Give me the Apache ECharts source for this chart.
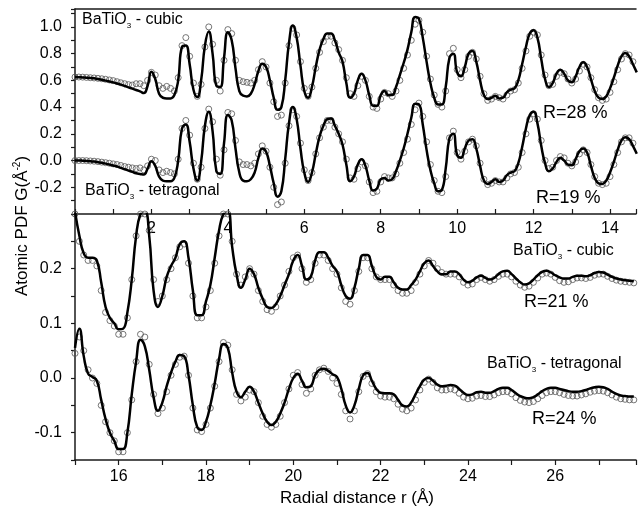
<!DOCTYPE html>
<html><head><meta charset="utf-8">
<script src="https://cdn.jsdelivr.net/npm/echarts@6/dist/echarts.min.js"></script>
<style>html,body{margin:0;padding:0;background:#fff}#c{width:639px;height:510px}</style>
</head><body><div id="c"></div>
<script>
// ---- top panel: r from 0.0 step 0.1 ----
const topStart = 0.0, topStep = 0.1;
const topCubicFit = [
0.625,0.624,0.622,0.620,0.618,0.615,0.610,0.605,0.598,0.592,
0.585,0.577,0.568,0.558,0.548,0.538,0.528,0.518,0.505,0.56,
0.665,0.61,0.50,0.47,0.465,0.465,0.49,0.60,0.85,0.86,
0.72,0.53,0.475,0.60,0.86,0.965,0.80,0.56,0.55,0.77,
0.96,0.90,0.69,0.52,0.485,0.48,0.50,0.57,0.67,0.725,
0.70,0.60,0.47,0.38,0.40,0.60,0.88,1.01,0.92,0.71,
0.52,0.47,0.55,0.70,0.83,0.91,0.95,0.95,0.90,0.81,
0.74,0.58,0.47,0.50,0.60,0.65,0.60,0.49,0.41,0.41,
0.49,0.52,0.49,0.49,0.55,0.64,0.73,0.83,0.96,1.075,
1.06,0.92,0.74,0.58,0.47,0.42,0.42,0.55,0.77,0.80,
0.66,0.63,0.70,0.80,0.82,0.74,0.60,0.49,0.46,0.47,
0.485,0.465,0.47,0.51,0.53,0.54,0.60,0.72,0.85,0.95,
0.975,0.92,0.76,0.61,0.55,0.58,0.65,0.68,0.65,0.60,
0.585,0.63,0.70,0.735,0.70,0.61,0.52,0.47,0.46,0.48,
0.54,0.62,0.71,0.78,0.805,0.78,0.72,0.66];
const topCubicExp = [
0.625,0.625,0.624,0.622,0.620,0.618,0.615,0.612,0.608,0.603,
0.598,0.590,0.582,0.575,0.568,0.565,0.575,0.575,0.560,0.600,
0.66,0.64,0.56,0.54,0.555,0.54,0.52,0.62,0.86,0.92,
0.78,0.58,0.48,0.57,0.85,1.0,0.87,0.60,0.52,0.75,
0.98,0.95,0.75,0.60,0.59,0.585,0.58,0.60,0.68,0.74,
0.70,0.58,0.44,0.33,0.34,0.58,0.86,0.99,0.94,0.74,
0.54,0.48,0.55,0.69,0.81,0.89,0.93,0.93,0.88,0.83,
0.75,0.62,0.50,0.48,0.56,0.63,0.60,0.48,0.40,0.39,
0.46,0.51,0.50,0.48,0.52,0.60,0.69,0.79,0.90,1.02,
1.05,0.96,0.78,0.61,0.49,0.42,0.40,0.52,0.80,0.84,
0.68,0.62,0.68,0.78,0.81,0.76,0.63,0.50,0.45,0.46,
0.48,0.47,0.46,0.49,0.52,0.53,0.58,0.69,0.82,0.93,
0.96,0.94,0.79,0.64,0.56,0.57,0.63,0.66,0.65,0.61,
0.58,0.61,0.67,0.72,0.70,0.62,0.53,0.47,0.45,0.46,
0.51,0.59,0.68,0.76,0.80,0.79,0.74,0.68];
const topTetraFit = [
0.0,0.0,-0.001,-0.003,-0.005,-0.008,-0.012,-0.017,-0.023,-0.030,
-0.037,-0.045,-0.055,-0.065,-0.075,-0.085,-0.095,-0.100,-0.105,-0.06,
-0.005,-0.04,-0.12,-0.15,-0.155,-0.155,-0.13,0.0,0.24,0.27,
0.14,-0.06,-0.15,-0.01,0.26,0.365,0.22,-0.08,-0.10,0.13,
0.34,0.30,0.09,-0.09,-0.15,-0.155,-0.14,-0.09,0.02,0.09,
0.065,-0.04,-0.17,-0.27,-0.23,0.01,0.28,0.40,0.31,0.09,
-0.09,-0.16,-0.09,0.05,0.18,0.26,0.31,0.315,0.26,0.20,
0.12,-0.03,-0.155,-0.12,-0.03,0.01,-0.04,-0.15,-0.225,-0.21,
-0.14,-0.13,-0.15,-0.14,-0.08,0.0,0.09,0.20,0.32,0.425,
0.42,0.27,0.08,-0.07,-0.17,-0.23,-0.22,-0.06,0.17,0.20,
0.04,0.02,0.09,0.15,0.16,0.09,-0.04,-0.15,-0.175,-0.16,
-0.14,-0.16,-0.15,-0.11,-0.09,-0.08,-0.02,0.10,0.24,0.34,
0.365,0.28,0.11,-0.02,-0.08,-0.06,-0.01,0.02,0.0,-0.03,
-0.035,0.01,0.07,0.09,0.06,-0.04,-0.13,-0.17,-0.175,-0.15,
-0.09,-0.01,0.08,0.15,0.175,0.16,0.11,0.05];
const topTetraExp = [
0.0,0.0,0.0,-0.001,-0.003,-0.005,-0.008,-0.012,-0.016,-0.020,
-0.025,-0.030,-0.037,-0.045,-0.050,-0.055,-0.060,-0.055,-0.070,-0.040,
0.01,0.0,-0.07,-0.09,-0.08,-0.09,-0.10,0.01,0.24,0.30,
0.19,-0.02,-0.14,-0.05,0.24,0.385,0.29,0.01,-0.11,0.08,
0.36,0.35,0.15,-0.01,-0.03,-0.03,-0.04,-0.02,0.05,0.11,
0.07,-0.05,-0.20,-0.33,-0.31,-0.02,0.26,0.38,0.33,0.13,
-0.07,-0.15,-0.09,0.05,0.17,0.25,0.30,0.30,0.25,0.20,
0.14,0.01,-0.13,-0.14,-0.06,-0.01,-0.04,-0.16,-0.24,-0.23,
-0.16,-0.12,-0.13,-0.13,-0.10,-0.02,0.06,0.16,0.27,0.38,
0.43,0.33,0.14,-0.03,-0.15,-0.23,-0.24,-0.12,0.17,0.22,
0.06,0.01,0.07,0.14,0.16,0.11,-0.02,-0.14,-0.18,-0.17,
-0.15,-0.16,-0.16,-0.13,-0.10,-0.09,-0.05,0.06,0.20,0.31,
0.35,0.31,0.15,0.00,-0.06,-0.05,0.00,0.03,0.02,-0.02,
-0.04,-0.01,0.05,0.08,0.06,-0.03,-0.12,-0.17,-0.18,-0.17,
-0.12,-0.03,0.06,0.14,0.17,0.17,0.13,0.07];

// ---- bottom panel: r from 15.0 step 0.1 ----
const botStart = 15.0, botStep = 0.1;
const botCubicFit = [
0.305,0.26,0.228,0.22,0.22,0.215,0.175,0.13,0.11,0.10,
0.089,0.09,0.12,0.18,0.26,0.30,0.305,0.26,0.16,0.13,
0.15,0.185,0.205,0.22,0.245,0.25,0.22,0.16,0.115,0.115,
0.14,0.17,0.22,0.27,0.30,0.305,0.24,0.19,0.165,0.18,
0.20,0.19,0.165,0.145,0.13,0.128,0.135,0.15,0.17,0.19,
0.215,0.225,0.205,0.18,0.185,0.215,0.23,0.23,0.22,0.205,
0.195,0.17,0.15,0.145,0.165,0.20,0.225,0.225,0.205,0.185,
0.18,0.185,0.185,0.175,0.165,0.162,0.162,0.17,0.18,0.195,
0.21,0.215,0.205,0.195,0.19,0.19,0.195,0.195,0.19,0.18,
0.175,0.178,0.184,0.187,0.183,0.18,0.183,0.19,0.195,0.196,
0.19,0.182,0.175,0.171,0.173,0.18,0.188,0.194,0.196,0.193,
0.188,0.184,0.182,0.182,0.185,0.187,0.187,0.186,0.188,0.192,
0.194,0.193,0.189,0.185,0.182,0.18,0.179,0.178,0.177];
const botCubicExp = [
0.30,0.25,0.225,0.215,0.215,0.205,0.16,0.12,0.105,0.095,
0.08,0.08,0.11,0.18,0.26,0.30,0.30,0.27,0.18,0.14,
0.15,0.18,0.20,0.22,0.24,0.245,0.21,0.15,0.11,0.11,
0.13,0.16,0.21,0.26,0.30,0.30,0.25,0.19,0.17,0.185,
0.20,0.19,0.16,0.14,0.125,0.122,0.13,0.15,0.17,0.195,
0.22,0.225,0.20,0.175,0.18,0.21,0.225,0.225,0.215,0.20,
0.19,0.165,0.14,0.135,0.16,0.195,0.22,0.22,0.20,0.185,
0.18,0.18,0.18,0.17,0.16,0.155,0.155,0.16,0.175,0.19,
0.205,0.215,0.21,0.20,0.193,0.19,0.19,0.19,0.185,0.175,
0.17,0.172,0.18,0.184,0.18,0.177,0.18,0.186,0.19,0.19,
0.185,0.177,0.17,0.166,0.168,0.175,0.183,0.19,0.192,0.19,
0.184,0.178,0.175,0.176,0.18,0.183,0.183,0.182,0.184,0.188,
0.19,0.19,0.186,0.182,0.179,0.177,0.176,0.175,0.174];
const botTetraFit = [
0.055,0.09,0.04,0.008,0.002,-0.005,-0.04,-0.075,-0.10,-0.115,
-0.13,-0.13,-0.10,-0.03,0.03,0.07,0.058,0.015,-0.035,-0.06,
-0.045,-0.015,0.01,0.03,0.042,0.04,0.005,-0.05,-0.09,-0.095,
-0.08,-0.05,-0.01,0.035,0.062,0.055,0.01,-0.025,-0.035,-0.025,
-0.016,-0.025,-0.045,-0.065,-0.08,-0.086,-0.08,-0.065,-0.045,-0.02,
0.0,0.008,-0.005,-0.017,-0.015,0.005,0.015,0.017,0.013,0.007,
0.002,-0.02,-0.05,-0.063,-0.05,-0.02,0.005,0.009,-0.005,-0.02,
-0.027,-0.028,-0.028,-0.03,-0.04,-0.05,-0.052,-0.045,-0.03,-0.015,
-0.003,0.0,-0.005,-0.012,-0.015,-0.014,-0.013,-0.014,-0.02,-0.027,
-0.031,-0.03,-0.026,-0.025,-0.027,-0.027,-0.024,-0.02,-0.018,-0.018,
-0.022,-0.028,-0.033,-0.036,-0.037,-0.035,-0.03,-0.024,-0.02,-0.018,
-0.018,-0.02,-0.022,-0.024,-0.025,-0.025,-0.024,-0.022,-0.019,-0.017,
-0.016,-0.017,-0.02,-0.025,-0.029,-0.032,-0.033,-0.034,-0.034];
const botTetraExp = [
0.045,0.075,0.05,0.015,0.0,-0.01,-0.05,-0.08,-0.10,-0.115,
-0.135,-0.135,-0.10,-0.04,0.03,0.08,0.075,0.025,-0.03,-0.065,
-0.055,-0.025,0.005,0.025,0.038,0.04,0.005,-0.055,-0.095,-0.098,
-0.085,-0.055,-0.015,0.03,0.065,0.06,0.015,-0.03,-0.042,-0.035,
-0.022,-0.025,-0.045,-0.07,-0.085,-0.09,-0.085,-0.07,-0.045,-0.02,
0.005,0.01,-0.012,-0.028,-0.02,0.005,0.015,0.018,0.012,0.0,
-0.01,-0.03,-0.06,-0.075,-0.06,-0.025,0.003,0.008,-0.01,-0.025,
-0.033,-0.035,-0.035,-0.038,-0.048,-0.057,-0.06,-0.055,-0.04,-0.022,
-0.008,-0.002,-0.008,-0.018,-0.022,-0.022,-0.02,-0.022,-0.028,-0.035,
-0.038,-0.037,-0.033,-0.032,-0.034,-0.034,-0.031,-0.027,-0.025,-0.025,
-0.029,-0.036,-0.041,-0.044,-0.045,-0.043,-0.038,-0.032,-0.027,-0.025,
-0.025,-0.027,-0.03,-0.032,-0.033,-0.033,-0.031,-0.029,-0.026,-0.024,
-0.023,-0.024,-0.027,-0.031,-0.035,-0.038,-0.039,-0.04,-0.04];

// ---- tick labels ----
const topXLabels = [2,4,6,8,10,12,14];
const botXLabels = [16,18,20,22,24,26];
const topYLabels = [-0.2,0.0,0.2,0.4,0.6,0.8,1.0];
const botYLabels = [-0.1,0.0,0.1,0.2];

const FAM = '"Liberation Sans", Arial, Helvetica, sans-serif';
const AX = '#1a1a1a';

function pairs(start, step, arr){ return arr.map((v,i)=>[+(start+i*step).toFixed(2), v]); }
function fmtFrom(list, digits){
  return function(v){
    for (const t of list){ if (Math.abs(v - t) < 1e-6) return digits ? t.toFixed(digits) : String(t); }
    return '';
  };
}
const lbl = (margin, list, digits) => ({margin, fontSize:16, color:'#000', fontFamily:FAM, formatter: fmtFrom(list, digits)});
const axLine = {show:true, onZero:false, lineStyle:{color:AX, width:1.5}};

function circles(xi, yi, start, step, arr){
  return {type:'scatter', xAxisIndex:xi, yAxisIndex:yi, data:pairs(start,step,arr), symbol:'circle', symbolSize:6,
    itemStyle:{color:'rgba(0,0,0,0)', borderColor:'#555', borderWidth:1}, z:2, silent:true, clip:true};
}
function fit(xi, yi, start, step, arr){
  return {type:'line', xAxisIndex:xi, yAxisIndex:yi, data:pairs(start,step,arr), showSymbol:false, smooth:0.5,
    lineStyle:{color:'#000', width:2.5}, z:3, silent:true, clip:true};
}

const richMain = {fontSize:16, fontFamily:FAM, fill:'#000', color:'#000', lineHeight:20};
const richSub = {fontSize:8, fontFamily:FAM, fill:'#000', color:'#000', lineHeight:8, padding:[12,0,0,0]};
function formula(x, y, rest){
  return {type:'text', x, y, silent:true, style:{text:'{a|BaTiO}{s|3}{a|' + rest + '}', rich:{a:richMain, s:richSub},
    align:'left', textAlign:'left', verticalAlign:'middle', textVerticalAlign:'middle'}};
}
function plain(x, y, text, size, align){
  return {type:'text', x, y, silent:true, style:{text, fontSize:size, fontFamily:FAM, fill:'#000',
    align:align||'left', textAlign:align||'left', verticalAlign:'middle', textVerticalAlign:'middle'}};
}

const option = {
  animation:false,
  backgroundColor:'#fff',
  grid:[
    {left:75, top:9, width:564, height:205},
    {left:75, top:214, width:564, height:246}
  ],
  xAxis:[
    {gridIndex:0, type:'value', min:0, max:14.68, interval:1, position:'bottom',
      axisLine:axLine, axisTick:{show:true, inside:true, length:5, lineStyle:{color:AX, width:1.2}},
      axisLabel:lbl(7, topXLabels, 0), splitLine:{show:false}},
    {gridIndex:0, type:'value', min:0, max:14.68, position:'top',
      axisLine:axLine, axisTick:{show:false}, axisLabel:{show:false}, splitLine:{show:false}},
    {gridIndex:1, type:'value', min:15, max:27.85, interval:1, position:'bottom',
      axisLine:axLine, axisTick:{show:true, inside:false, length:5, lineStyle:{color:AX, width:1.2}},
      axisLabel:lbl(9, botXLabels, 0), splitLine:{show:false}}
  ],
  yAxis:[
    {gridIndex:0, type:'value', min:-0.4, max:1.134, interval:0.1,
      axisLine:axLine, axisTick:{show:true, inside:false, length:4, lineStyle:{color:AX, width:1.2}},
      axisLabel:lbl(13, topYLabels, 1), splitLine:{show:false}},
    {gridIndex:1, type:'value', min:-0.15, max:0.30, interval:0.05,
      axisLine:axLine, axisTick:{show:true, inside:false, length:4, lineStyle:{color:AX, width:1.2}},
      axisLabel:lbl(13, botYLabels, 1), splitLine:{show:false}}
  ],
  series:[
    circles(0,0,topStart,topStep,topCubicExp),
    circles(0,0,topStart,topStep,topTetraExp),
    circles(2,1,botStart,botStep,botCubicExp),
    circles(2,1,botStart,botStep,botTetraExp),
    fit(0,0,topStart,topStep,topCubicFit),
    fit(0,0,topStart,topStep,topTetraFit),
    fit(2,1,botStart,botStep,botCubicFit),
    fit(2,1,botStart,botStep,botTetraFit)
  ],
  graphic:[
    formula(82, 20, ' - cubic'),
    formula(85, 191, ' - tetragonal'),
    plain(543, 113, 'R=28 %', 18),
    plain(536, 198, 'R=19 %', 18),
    formula(513, 251, ' - cubic'),
    plain(524, 302, 'R=21 %', 18),
    formula(487, 364, ' - tetragonal'),
    plain(532, 419, 'R=24 %', 18),
    plain(357, 498, 'Radial distance r (Å)', 17, 'center'),
    {type:'text', x:22, y:226, rotation:Math.PI/2, silent:true,
      style:{text:'{a|Atomic PDF G(Å}{p|-2}{a|)}',
        rich:{a:{fontSize:17, fontFamily:FAM, fill:'#000', color:'#000', lineHeight:22},
              p:{fontSize:10, fontFamily:FAM, fill:'#000', color:'#000', lineHeight:10, padding:[0,0,10,0]}},
        align:'center', textAlign:'center', verticalAlign:'middle', textVerticalAlign:'middle'}}
  ]
};
const chart = echarts.init(document.getElementById('c'), null, {renderer:'canvas'});
chart.setOption(option);
</script></body></html>
